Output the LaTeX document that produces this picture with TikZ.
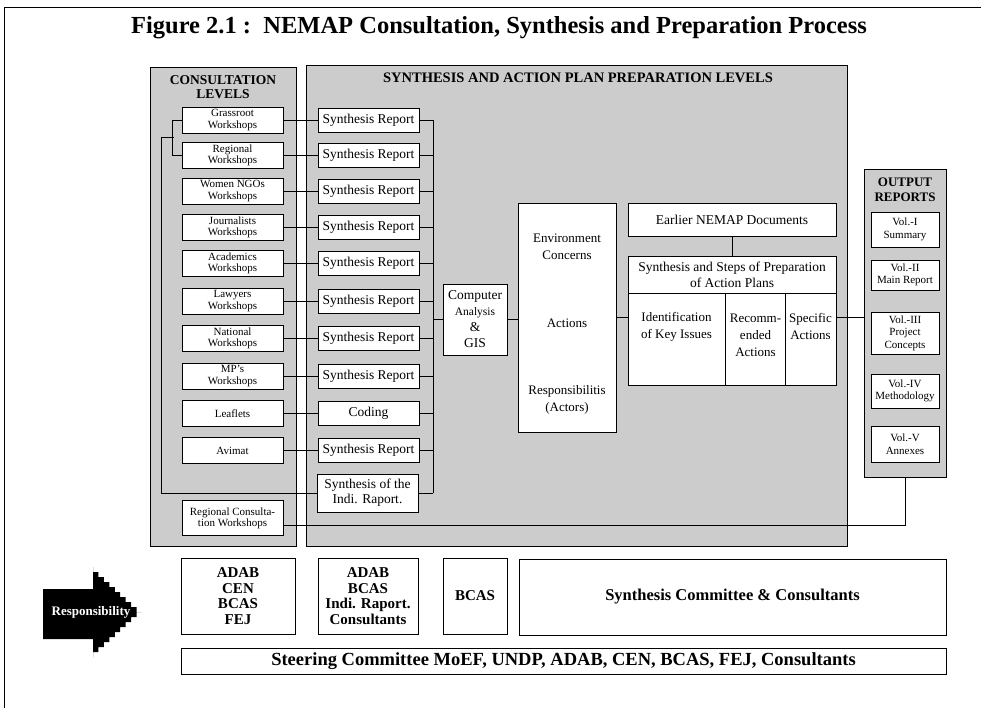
\documentclass[tikz,border=0pt]{standalone}
\usepackage{fontspec}
\setmainfont{Liberation Serif}
\usetikzlibrary{calc}
\begin{document}
\begin{tikzpicture}[x=1pt,y=-1pt,
  panel/.style={draw, line width=0.8pt, fill=black!20},
  box/.style={draw, line width=0.9pt, fill=white, inner sep=0pt, align=center},
  cbox/.style={box, minimum width=101pt, minimum height=26pt, font=\fontsize{11}{11.2}\selectfont},
  sbox/.style={box, minimum width=101pt, minimum height=24pt, font=\fontsize{13.5}{15}\selectfont},
  vbox/.style={box, minimum width=68pt, font=\fontsize{11}{12.5}\selectfont},
  rbox/.style={box, minimum height=76pt, font=\bfseries\fontsize{15}{15.7}\selectfont},
  colbox/.style={box, minimum height=92pt},
  head/.style={inner sep=0pt, align=center},
  txt/.style={inner sep=0pt, align=center, font=\fontsize{13}{17}\selectfont},
  link/.style={line width=0.8pt}
]
\useasboundingbox (0,0) rectangle (981,710);

% page frame and title
\draw[line width=1pt] (4,708) -- (4,7) -- (981,7);
\node[head, font=\bfseries\fontsize{24.5}{26}\selectfont] (title) at (499,28)
  {Figure 2.1 :\ \ NEMAP Consultation, Synthesis and Preparation Process};

% shaded panels
\draw[panel] (150,67) rectangle (296,546);
\draw[panel] (306,65) rectangle (847,546);
\node[panel, minimum width=82pt, minimum height=308pt, inner sep=0pt] (outp) at (905,323) {};

\node[head, font=\bfseries\fontsize{13.5}{14}\selectfont] (chead) at (223,87.5) {CONSULTATION\\LEVELS};
\node[head, font=\bfseries\fontsize{14.5}{15}\selectfont] (shead) at (578,78) {SYNTHESIS AND ACTION PLAN PREPARATION LEVELS};
\node[head, font=\bfseries\fontsize{13}{15}\selectfont] (ohead) at (905,189.5) {OUTPUT\\REPORTS};

% consultation levels
\node[cbox] (c1) at (232.5,120) {Grassroot\\Workshops};
\node[cbox] (c2) at (232.5,155.5) {Regional\\Workshops};
\node[cbox] (c3) at (232.5,191) {Women NGOs\\Workshops};
\node[cbox] (c4) at (232.5,227) {Journalists\\Workshops};
\node[cbox] (c5) at (232.5,263) {Academics\\Workshops};
\node[cbox] (c6) at (232.5,301) {Lawyers\\Workshops};
\node[cbox] (c7) at (232.5,338) {National\\Workshops};
\node[cbox] (c8) at (232.5,376) {MP's\\Workshops};
\node[cbox] (c9) at (232.5,413.5) {Leaflets};
\node[cbox] (c10) at (232.5,450.5) {Avimat};
\node[cbox, minimum height=35pt] (rcw) at (232.5,518) {Regional Consulta-\\tion Workshops};

% synthesis reports
\node[sbox] (s1) at (368.5,120) {Synthesis Report};
\node[sbox] (s2) at (368.5,155.5) {Synthesis Report};
\node[sbox] (s3) at (368.5,191) {Synthesis Report};
\node[sbox] (s4) at (368.5,227) {Synthesis Report};
\node[sbox] (s5) at (368.5,263) {Synthesis Report};
\node[sbox] (s6) at (368.5,301) {Synthesis Report};
\node[sbox] (s7) at (368.5,338) {Synthesis Report};
\node[sbox] (s8) at (368.5,376) {Synthesis Report};
\node[sbox] (s9) at (368.5,413.5) {Coding};
\node[sbox] (s10) at (368.5,450.5) {Synthesis Report};
\node[sbox, minimum height=38pt] (sindi) at (367.5,493) {Synthesis of the\\Indi. Raport.};

% consultation -> synthesis links
\foreach \i in {1,...,10} {
  \draw[link] (c\i.east) -- (s\i.west);
}

% collecting bus
\coordinate (busTop) at (433,120);
\coordinate (busBot) at (433,493);
\draw[link] (busTop) -- (busBot);
\foreach \i in {1,...,10} {
  \draw[link] (s\i.east) -- (s\i.east -| busTop);
}
\draw[link] (sindi.east) -- (busBot);

% grassroot + regional feed the individual rapporteurs
\draw[link] (c1.west) -- ++(-9,0) |- (c2.west);
\coordinate (brk) at (173.5,137.75);
\draw[link] (brk) -- ++(-12,0) |- (sindi.west);

% computer analysis
\node[box, minimum width=64pt, minimum height=71pt, font=\fontsize{13.5}{16}\selectfont] (comp) at (475,319.5)
  {Computer\\{\fontsize{11.5}{16}\selectfont Analysis}\\\&\\GIS};
\draw[link] (comp.west -| busTop) -- (comp.west);

% environment concerns / actions / responsibilities
\node[box, minimum width=98pt, minimum height=229pt] (env) at (567,317.5) {};
\node[txt] (envc) at (567,247) {Environment\\Concerns};
\node[txt] (enva) at (567,323) {Actions};
\node[txt] (envr) at (567,400) {Responsibilitis\\(Actors)};
\draw[link] (comp.east) -- (comp.east -| env.west);

% action plan preparation
\node[box, minimum width=208pt, minimum height=33pt, font=\fontsize{13.5}{16}\selectfont] (earlier) at (732,219.5) {Earlier NEMAP Documents};
\node[box, minimum width=208pt, minimum height=37pt, font=\fontsize{13.5}{16}\selectfont] (shdr) at (732,274.5) {Synthesis and Steps of Preparation\\of Action Plans};
\draw[link] (earlier) -- (shdr);
\node[colbox, minimum width=97pt] (ident) at (676.5,339) {};
\node[colbox, minimum width=60pt] (recom) at (755.5,339) {};
\node[colbox, minimum width=51pt] (spec) at (810.5,339) {};
\node[txt] (identt) at (676.5,326.5) {Identification\\of Key Issues};
\node[txt] (recomt) at (755.5,335) {Recomm-\\ended\\Actions};
\node[txt] (spect) at (810.5,326.5) {Specific\\Actions};
\draw[link] (env.east) -- (env.east -| ident.west);
\draw[link] (spec.east |- env.east) -- (outp.west |- env.east);

% output reports
\node[vbox, minimum height=35pt] (v1) at (905,229.5) {Vol.-I\\Summary};
\node[vbox, minimum height=30pt] (v2) at (905,275) {Vol.-II\\Main Report};
\node[vbox, minimum height=42pt] (v3) at (905,333) {Vol.-III\\Project\\Concepts};
\node[vbox, minimum height=34pt] (v4) at (905,391) {Vol.-IV\\Methodology};
\node[vbox, minimum height=36pt] (v5) at (905,444) {Vol.-V\\Annexes};
\draw[link] ([yshift=-7pt]rcw.east) -| (outp.south);

% responsibility row
\fill (43,589) -- (93,589) -- (93,567)
  \foreach \k in {1,...,9} { -- ++(0,5) -- ++(5.44,0) } -- (142,612)
  \foreach \k in {1,...,9} { -- ++(-5.44,0) -- ++(0,5) } -- (93,639) -- (43,639) -- cycle;
\node[head, text=white, font=\bfseries\fontsize{13}{14}\selectfont] (resp) at (91,612) {Responsibility};

\node[rbox, minimum width=114pt] (r1) at (238,596) {ADAB\\CEN\\BCAS\\FEJ};
\node[rbox, minimum width=100pt] (r2) at (368,596) {ADAB\\BCAS\\Indi. Raport.\\Consultants};
\node[rbox, minimum width=64pt] (r3) at (475,596) {BCAS};
\node[rbox, minimum width=427pt, font=\bfseries\fontsize{16.5}{18}\selectfont] (r4) at (732.5,597) {Synthesis Committee \& Consultants};
\node[box, minimum width=765pt, minimum height=26pt, font=\bfseries\fontsize{18.5}{20}\selectfont] (steer) at (563.5,661)
  {Steering Committee MoEF, UNDP, ADAB, CEN, BCAS, FEJ, Consultants};
\end{tikzpicture}
\end{document}
